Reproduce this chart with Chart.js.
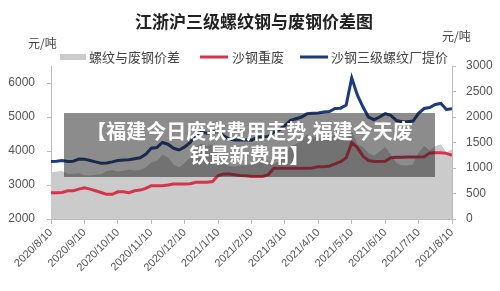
<!DOCTYPE html>
<html>
<head>
<meta charset="utf-8">
<script src="https://cdn.jsdelivr.net/npm/chart.js@4/dist/chart.umd.min.js"></script>
<style>
html,body{margin:0;padding:0;background:#fff}
#wrap{position:relative;width:500px;height:291px}
#c{position:absolute;left:0;top:0}
#tip{position:absolute;left:64px;top:113px;width:371px;height:58px;padding-top:6px;background:rgba(25,25,25,0.5);color:#fff;font-family:"Noto Sans CJK SC",sans-serif;font-weight:bold;font-size:20px;line-height:24px;text-align:center}
</style>
</head>
<body>
<div id="wrap">
<canvas id="c" width="500" height="291"></canvas>
<div id="tip">【福建今日废铁费用走势,福建今天废<br>铁最新费用】</div>
</div>
<script>
// 月份刻度
const monthLabels=['2020/8/10','2020/9/10','2020/10/10','2020/11/10','2020/12/10','2021/1/10','2021/2/10','2021/3/10','2021/4/10','2021/5/10','2021/6/10','2021/7/10','2021/8/10']

// 螺纹与废钢价差 (右轴)
const spread=[900,920,930,880,870,890,850,840,860,870,930,950,920,940,960,940,950,1000,1100,1130,1250,1200,1060,1000,1090,1200,1400,1460,1420,1460,1290,1130,1030,1020,1040,1060,1070,1150,1170,1130,1060,1130,1260,1410,1460,1520,1650,1610,1580,1600,1620,1630,1570,1550,1700,1450,1400,1280,1230,1310,1400,1250,1090,1040,1040,1060,1290,1420,1340,1420,1450,1290,1360]

// 沙钢重废
const scrap=[2770,2770,2780,2830,2830,2880,2920,2880,2830,2780,2725,2725,2800,2800,2775,2830,2850,2900,2980,2980,2980,3000,3030,3030,3030,3040,3080,3080,3080,3100,3280,3320,3320,3300,3280,3275,3250,3250,3250,3300,3490,3490,3490,3490,3490,3490,3490,3500,3540,3540,3560,3620,3685,3800,4250,4100,3850,3720,3690,3690,3700,3800,3815,3815,3820,3820,3820,3830,3940,3950,3950,3930,3870]

// 沙钢三级螺纹厂提价
const rebar=[3690,3700,3720,3690,3700,3765,3760,3720,3680,3640,3650,3680,3720,3735,3740,3770,3800,3900,4080,4100,4250,4200,4080,4030,4120,4250,4500,4550,4520,4560,4570,4450,4350,4320,4320,4330,4320,4400,4420,4430,4550,4620,4750,4900,4950,5000,5100,5110,5120,5150,5160,5250,5260,5350,6150,5650,5300,5000,4920,5000,5100,5050,4900,4860,4860,4880,5110,5250,5280,5370,5400,5220,5240]

const cnFont='"Noto Sans CJK SC",sans-serif'
const numFont='"Liberation Sans",Arial,sans-serif'

const pts=arr=>arr.map((v,i)=>({x:i,y:v}))

const decor={
id:'decor',
afterDraw(chart){
const ctx=chart.ctx
ctx.save()
ctx.fillStyle='#222'
ctx.textBaseline='middle'
ctx.textAlign='center'
ctx.font='bold 17px '+cnFont
ctx.fillText('江浙沪三级螺纹钢与废钢价差图',254,22)

ctx.fillStyle='#444'
ctx.font='12px '+cnFont
ctx.textAlign='left'
ctx.fillText('元/吨',28,43)
ctx.fillText('元/吨',442,36)

ctx.font='13px '+cnFont
ctx.fillStyle='#cbcbcb'
ctx.fillRect(60,54,26,6)
ctx.fillStyle='#444'
ctx.fillText('螺纹与废钢价差',89,57)

ctx.lineWidth=3
ctx.strokeStyle='#d7334b'
ctx.beginPath();ctx.moveTo(200,57);ctx.lineTo(228,57);ctx.stroke()
ctx.fillText('沙钢重废',232,57)

ctx.strokeStyle='#1b3a80'
ctx.beginPath();ctx.moveTo(300,57);ctx.lineTo(328,57);ctx.stroke()
ctx.fillText('沙钢三级螺纹厂提价',331,57)
ctx.restore()
}
}

new Chart(document.getElementById('c'),{
type:'line',
data:{
datasets:[
{label:'螺纹与废钢价差',data:pts(spread),yAxisID:'y2',fill:'origin',backgroundColor:'#cbcbcb',borderColor:'#cbcbcb',borderWidth:1,pointRadius:0,order:3},
{label:'沙钢重废',data:pts(scrap),yAxisID:'y',fill:false,borderColor:'#d7334b',borderWidth:3,pointRadius:0,order:1},
{label:'沙钢三级螺纹厂提价',data:pts(rebar),yAxisID:'y',fill:false,borderColor:'#1b3a80',borderWidth:3,pointRadius:0,order:2}
]
},
options:{
responsive:false,
animation:false,
devicePixelRatio:1,
layout:{padding:{top:66,left:0,right:0,bottom:0}},
plugins:{legend:{display:false},tooltip:{enabled:false},title:{display:false}},
scales:{
x:{
type:'linear',min:0,max:72,
afterFit:s=>{s.height=72},
grid:{drawOnChartArea:false,tickLength:5,color:'#bbb'},
border:{color:'#bbb'},
ticks:{stepSize:6,autoSkip:false,maxRotation:45,minRotation:45,padding:2,color:'#555',font:{size:11,family:numFont},
callback:v=>monthLabels[v/6]}
},
y:{
position:'left',min:2000,max:6500,
afterFit:s=>{s.width=51},
grid:{drawOnChartArea:false,tickLength:4,color:'#bbb'},
border:{color:'#bbb'},
ticks:{stepSize:500,padding:12,color:'#555',font:{size:12,family:numFont},callback:v=>String(v)}
},
y2:{
position:'right',min:0,max:3000,
afterFit:s=>{s.width=48},
grid:{drawOnChartArea:false,tickLength:4,color:'#bbb'},
border:{color:'#bbb'},
ticks:{stepSize:500,padding:10,color:'#555',font:{size:12,family:numFont},callback:v=>String(v)}
}
}
},
plugins:[decor]
})
</script>
</body>
</html>
